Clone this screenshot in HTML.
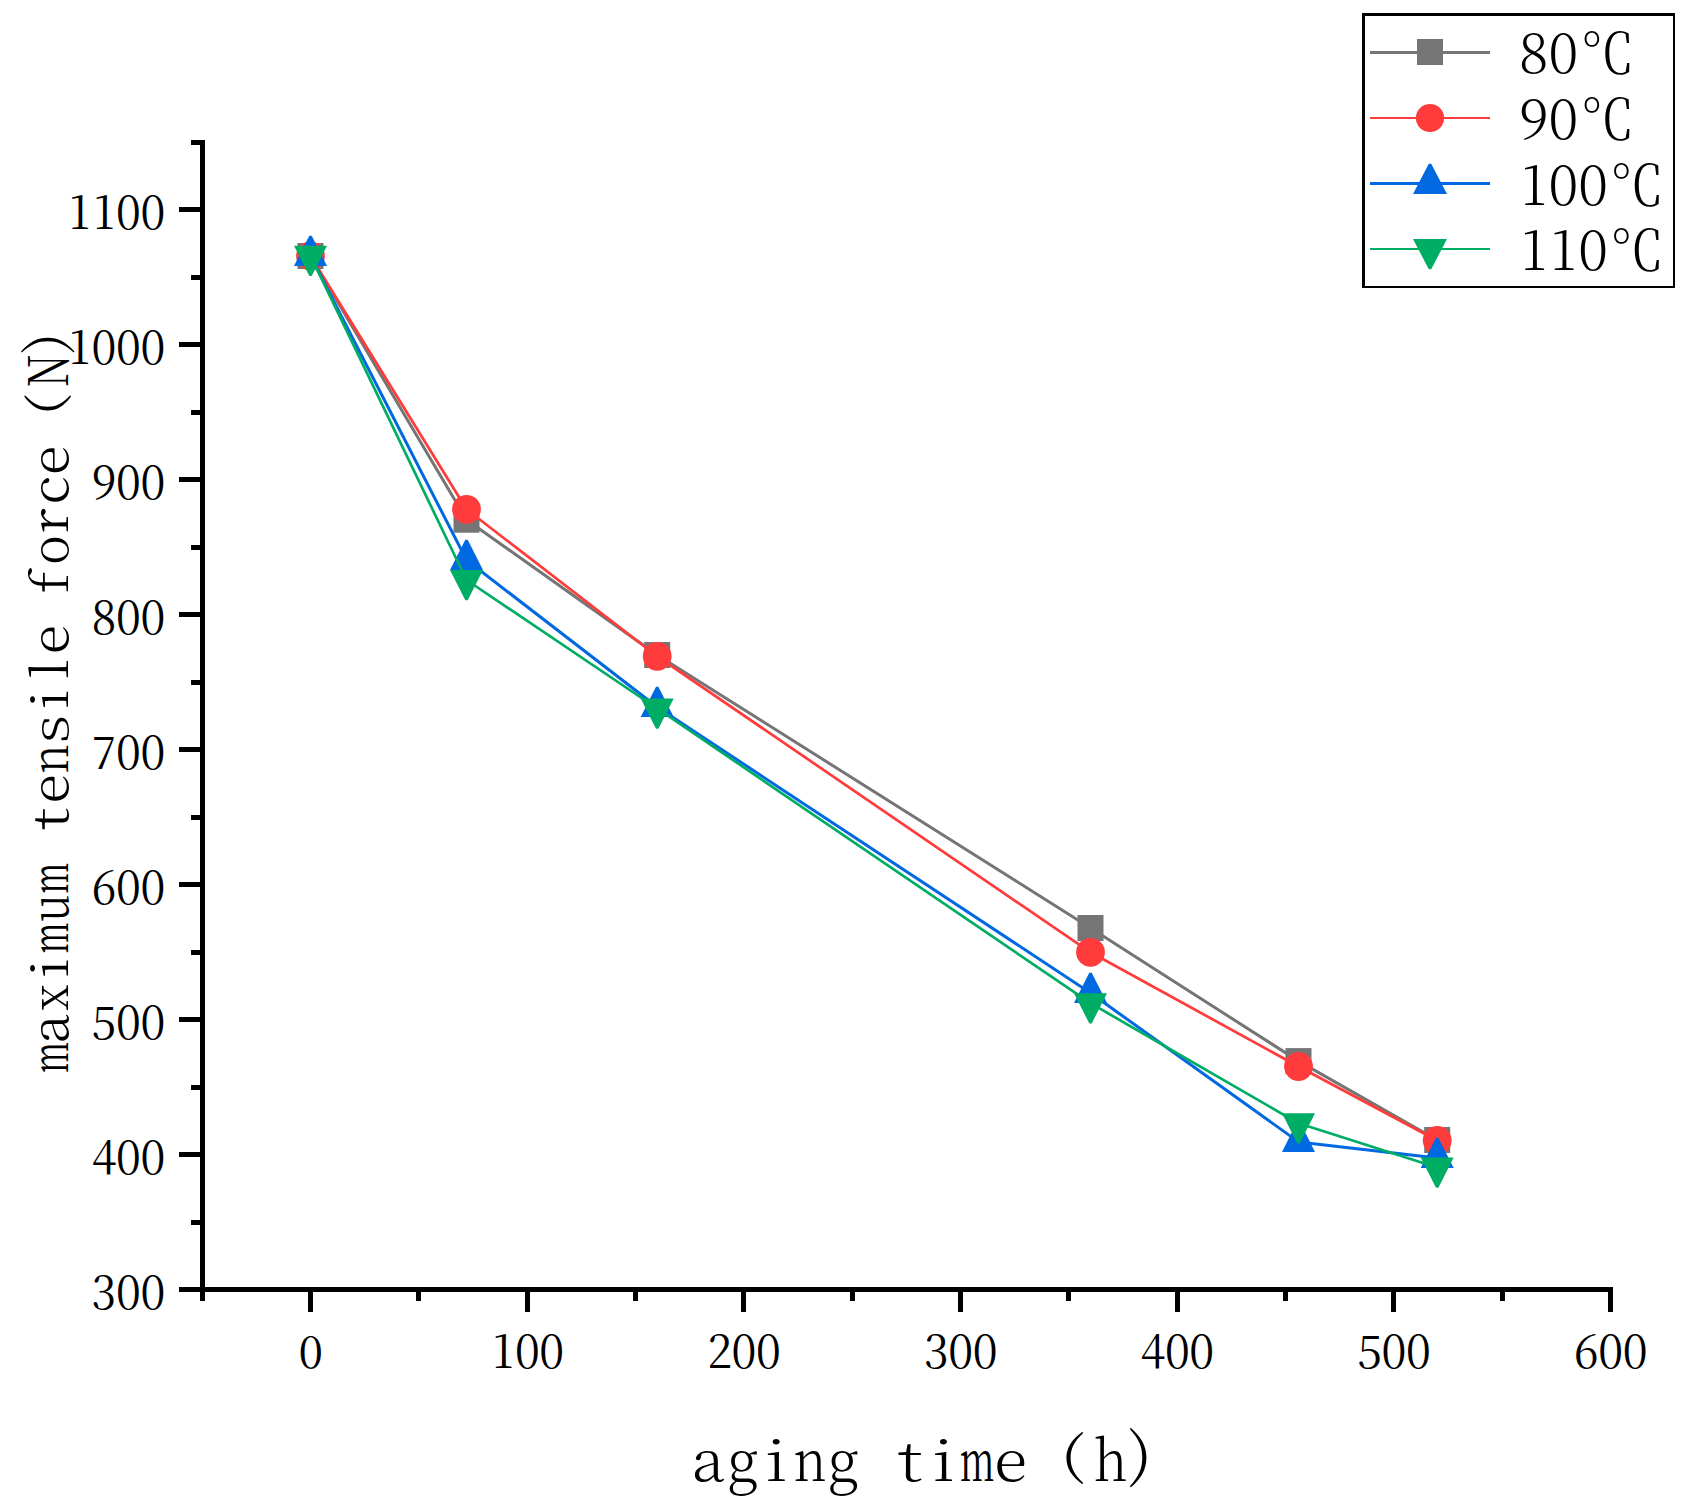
<!DOCTYPE html>
<html lang="en"><head><meta charset="utf-8"><title>maximum tensile force vs aging time</title>
<style>html,body{margin:0;padding:0;background:#fff}svg{display:block}text{font-family:"Noto Serif CJK SC", "Liberation Serif", serif;fill:#000}.tk{font-size:44.6px;font-weight:400}.lg{font-size:54.2px;font-weight:300}.yt{font-size:50px;font-weight:300}.xt{font-size:56px;font-weight:300}</style></head><body>
<svg width="1689" height="1508" viewBox="0 0 1689 1508">
<rect width="1689" height="1508" fill="#fff"/>
<g fill="#000" shape-rendering="crispEdges">
<rect x="200" y="140" width="5" height="1161"/>
<rect x="179" y="1287" width="1434" height="5"/>
<rect x="179" y="1152" width="21" height="5"/>
<rect x="179" y="1017" width="21" height="5"/>
<rect x="179" y="882" width="21" height="5"/>
<rect x="179" y="747" width="21" height="5"/>
<rect x="179" y="612" width="21" height="5"/>
<rect x="179" y="477" width="21" height="5"/>
<rect x="179" y="342" width="21" height="5"/>
<rect x="179" y="207" width="21" height="5"/>
<rect x="191" y="1219.5" width="9" height="5"/>
<rect x="191" y="1084.5" width="9" height="5"/>
<rect x="191" y="949.5" width="9" height="5"/>
<rect x="191" y="814.5" width="9" height="5"/>
<rect x="191" y="679.5" width="9" height="5"/>
<rect x="191" y="544.5" width="9" height="5"/>
<rect x="191" y="409.5" width="9" height="5"/>
<rect x="191" y="274.5" width="9" height="5"/>
<rect x="191" y="139.5" width="9" height="5"/>
<rect x="308" y="1292" width="5" height="20"/>
<rect x="524.67" y="1292" width="5" height="20"/>
<rect x="741.33" y="1292" width="5" height="20"/>
<rect x="958" y="1292" width="5" height="20"/>
<rect x="1174.67" y="1292" width="5" height="20"/>
<rect x="1391.33" y="1292" width="5" height="20"/>
<rect x="1608" y="1292" width="5" height="20"/>
<rect x="416.33" y="1292" width="5" height="9"/>
<rect x="633" y="1292" width="5" height="9"/>
<rect x="849.67" y="1292" width="5" height="9"/>
<rect x="1066.33" y="1292" width="5" height="9"/>
<rect x="1283" y="1292" width="5" height="9"/>
<rect x="1499.67" y="1292" width="5" height="9"/>
</g>
<text class="tk" text-anchor="middle" x="104 128.4 152.8" y="1308.5">300</text>
<text class="tk" text-anchor="middle" x="104 128.4 152.8" y="1173.5">400</text>
<text class="tk" text-anchor="middle" x="104 128.4 152.8" y="1038.5">500</text>
<text class="tk" text-anchor="middle" x="104 128.4 152.8" y="903.5">600</text>
<text class="tk" text-anchor="middle" x="104 128.4 152.8" y="768.5">700</text>
<text class="tk" text-anchor="middle" x="104 128.4 152.8" y="633.5">800</text>
<text class="tk" text-anchor="middle" x="104 128.4 152.8" y="498.5">900</text>
<text class="tk" text-anchor="middle" x="79.6 104 128.4 152.8" y="363.5">1000</text>
<text class="tk" text-anchor="middle" x="79.6 104 128.4 152.8" y="228.5">1100</text>
<text class="tk" text-anchor="middle" x="310.7" y="1368">0</text>
<text class="tk" text-anchor="middle" x="502.97 527.37 551.77" y="1368">100</text>
<text class="tk" text-anchor="middle" x="719.63 744.03 768.43" y="1368">200</text>
<text class="tk" text-anchor="middle" x="936.3 960.7 985.1" y="1368">300</text>
<text class="tk" text-anchor="middle" x="1152.97 1177.37 1201.77" y="1368">400</text>
<text class="tk" text-anchor="middle" x="1369.63 1394.03 1418.43" y="1368">500</text>
<text class="tk" text-anchor="middle" x="1586.3 1610.7 1635.1" y="1368">600</text>
<g fill="#757575" stroke="none">
<polyline points="310.5,256 466.5,519.7 657.2,655 1090.5,928 1298.5,1061.1 1437.2,1140" fill="none" stroke="#757575" stroke-width="3" stroke-linejoin="round"/>
<rect x="297.5" y="243" width="26" height="26"/>
<rect x="453.5" y="506.7" width="26" height="26"/>
<rect x="644.2" y="642" width="26" height="26"/>
<rect x="1077.5" y="915" width="26" height="26"/>
<rect x="1285.5" y="1048.1" width="26" height="26"/>
<rect x="1424.2" y="1127" width="26" height="26"/>
</g>
<g fill="#ff3b3b" stroke="none">
<polyline points="310.5,256 466.5,509.3 657.2,656.3 1090.5,952.3 1298.5,1066.5 1437.2,1140.5" fill="none" stroke="#ff3b3b" stroke-width="2.7" stroke-linejoin="round"/>
<circle cx="310.5" cy="256" r="14.4"/>
<circle cx="466.5" cy="509.3" r="14.4"/>
<circle cx="657.2" cy="656.3" r="14.4"/>
<circle cx="1090.5" cy="952.3" r="14.4"/>
<circle cx="1298.5" cy="1066.5" r="14.4"/>
<circle cx="1437.2" cy="1140.5" r="14.4"/>
</g>
<g fill="#0069e1" stroke="none">
<polyline points="310.5,256 466.5,560 657.2,707 1090.5,993 1298.5,1141.9 1437.2,1158" fill="none" stroke="#0069e1" stroke-width="3" stroke-linejoin="round"/>
<path d="M309.3 235.7L311.7 235.7L327 266L294 266Z"/>
<path d="M465.3 539.7L467.7 539.7L483 570L450 570Z"/>
<path d="M656 686.7L658.4 686.7L673.7 717L640.7 717Z"/>
<path d="M1089.3 972.7L1091.7 972.7L1107 1003L1074 1003Z"/>
<path d="M1297.3 1121.6L1299.7 1121.6L1315 1151.9L1282 1151.9Z"/>
<path d="M1436 1137.7L1438.4 1137.7L1453.7 1168L1420.7 1168Z"/>
</g>
<g fill="#00ad64" stroke="none">
<polyline points="310.5,255.7 466.5,580 657.2,708.5 1090.5,1003.2 1298.5,1123.3 1437.2,1167.5" fill="none" stroke="#00ad64" stroke-width="2.7" stroke-linejoin="round"/>
<path d="M309.3 276L311.7 276L327 245.7L294 245.7Z"/>
<path d="M465.3 600.3L467.7 600.3L483 570L450 570Z"/>
<path d="M656 728.8L658.4 728.8L673.7 698.5L640.7 698.5Z"/>
<path d="M1089.3 1023.5L1091.7 1023.5L1107 993.2L1074 993.2Z"/>
<path d="M1297.3 1143.6L1299.7 1143.6L1315 1113.3L1282 1113.3Z"/>
<path d="M1436 1187.8L1438.4 1187.8L1453.7 1157.5L1420.7 1157.5Z"/>
</g>
<g fill="#000" shape-rendering="crispEdges">
<rect x="1362" y="13" width="313" height="3"/>
<rect x="1362" y="13" width="3" height="275"/>
<rect x="1673" y="13" width="2" height="275"/>
<rect x="1362" y="286" width="313" height="2"/>
</g>
<g fill="#757575">
<rect x="1370" y="51" width="120" height="3" shape-rendering="crispEdges"/>
<rect x="1417" y="39" width="26" height="26"/>
</g>
<g fill="#ff3b3b">
<rect x="1370" y="117" width="120" height="2" shape-rendering="crispEdges"/>
<circle cx="1430" cy="118" r="14.1"/>
</g>
<g fill="#0069e1">
<rect x="1370" y="182" width="120" height="3" shape-rendering="crispEdges"/>
<path d="M1428.8 163.7L1431.2 163.7L1447 194L1413 194Z"/>
</g>
<g fill="#00ad64">
<rect x="1370" y="248" width="120" height="2" shape-rendering="crispEdges"/>
<path d="M1428.8 269.3L1431.2 269.3L1447 239L1413 239Z"/>
</g>
<text class="lg" text-anchor="middle" x="1533.8 1563.4 1607.56" y="73">80℃</text>
<text class="lg" text-anchor="middle" x="1533.8 1563.4 1607.56" y="139">90℃</text>
<text class="lg" text-anchor="middle" x="1533.8 1563.4 1593 1637.16" y="205">100℃</text>
<text class="lg" text-anchor="middle" x="1533.8 1563.4 1593 1637.16" y="270">110℃</text>
<text class="xt" text-anchor="middle" x="708.4 743.05 776.5 809.95 843.4 876.85 910.3 943.75 977.2 1010.65 1044.1 1072.43 1110.5 1140.5" y="1481 1481 1481 1481 1481 1481 1481 1481 1481 1481 1481 1473.4 1481 1475"><tspan textLength="33.1" lengthAdjust="spacingAndGlyphs">a</tspan>g<tspan textLength="22.96" lengthAdjust="spacingAndGlyphs" font-weight="200">i</tspan><tspan textLength="33.05" lengthAdjust="spacingAndGlyphs">n</tspan>g <tspan textLength="25.34" lengthAdjust="spacingAndGlyphs" font-weight="200">t</tspan><tspan textLength="22.96" lengthAdjust="spacingAndGlyphs" font-weight="200">i</tspan><tspan textLength="34.71" lengthAdjust="spacingAndGlyphs" font-weight="400">m</tspan><tspan textLength="32.9" lengthAdjust="spacingAndGlyphs">e</tspan> <tspan textLength="25.86" lengthAdjust="spacingAndGlyphs" font-size="50.1" font-weight="200">(</tspan><tspan textLength="34.1" lengthAdjust="spacingAndGlyphs">h</tspan><tspan textLength="25.37" lengthAdjust="spacingAndGlyphs" font-size="57.1" font-weight="200">)</tspan></text>
<text class="yt" text-anchor="middle" transform="rotate(-90)" x="-1057.5 -1028.71 -997.78 -967.92 -938.06 -908.2 -878.34 -848.48 -818.62 -788.76 -758.9 -729.04 -699.18 -669.32 -639.46 -609.6 -582.48 -549.88 -521.04 -490.16 -460.3 -430.44 -405.07 -370.72 -342.86" y="68 68 68 68 68 68 68 68 68 68 68 68 68 68 68 68 68 68 68 68 68 68 60.7 68 63.15"><tspan textLength="30.98" lengthAdjust="spacingAndGlyphs" font-weight="400">m</tspan><tspan textLength="29.55" lengthAdjust="spacingAndGlyphs">a</tspan><tspan textLength="25.67" lengthAdjust="spacingAndGlyphs">x</tspan><tspan textLength="20.5" lengthAdjust="spacingAndGlyphs" font-weight="200">i</tspan><tspan textLength="30.98" lengthAdjust="spacingAndGlyphs" font-weight="400">m</tspan><tspan textLength="28.34" lengthAdjust="spacingAndGlyphs">u</tspan><tspan textLength="30.98" lengthAdjust="spacingAndGlyphs" font-weight="400">m</tspan> <tspan textLength="22.62" lengthAdjust="spacingAndGlyphs" font-weight="200">t</tspan><tspan textLength="29.37" lengthAdjust="spacingAndGlyphs">e</tspan><tspan textLength="29.51" lengthAdjust="spacingAndGlyphs">n</tspan><tspan textLength="29.25" lengthAdjust="spacingAndGlyphs" font-weight="200">s</tspan><tspan textLength="20.5" lengthAdjust="spacingAndGlyphs" font-weight="200">i</tspan><tspan textLength="20.62" lengthAdjust="spacingAndGlyphs" font-weight="200">l</tspan><tspan textLength="29.37" lengthAdjust="spacingAndGlyphs">e</tspan> <tspan textLength="22.17" lengthAdjust="spacingAndGlyphs" font-weight="200">f</tspan>o<tspan textLength="25.07" lengthAdjust="spacingAndGlyphs">r</tspan><tspan textLength="28.88" lengthAdjust="spacingAndGlyphs">c</tspan><tspan textLength="29.37" lengthAdjust="spacingAndGlyphs">e</tspan> <tspan textLength="23.23" lengthAdjust="spacingAndGlyphs" font-size="45" font-weight="200">(</tspan><tspan textLength="32.98" lengthAdjust="spacingAndGlyphs" font-size="54.8">N</tspan><tspan textLength="22.65" lengthAdjust="spacingAndGlyphs" font-size="51.5" font-weight="200">)</tspan></text>
</svg>
</body></html>
